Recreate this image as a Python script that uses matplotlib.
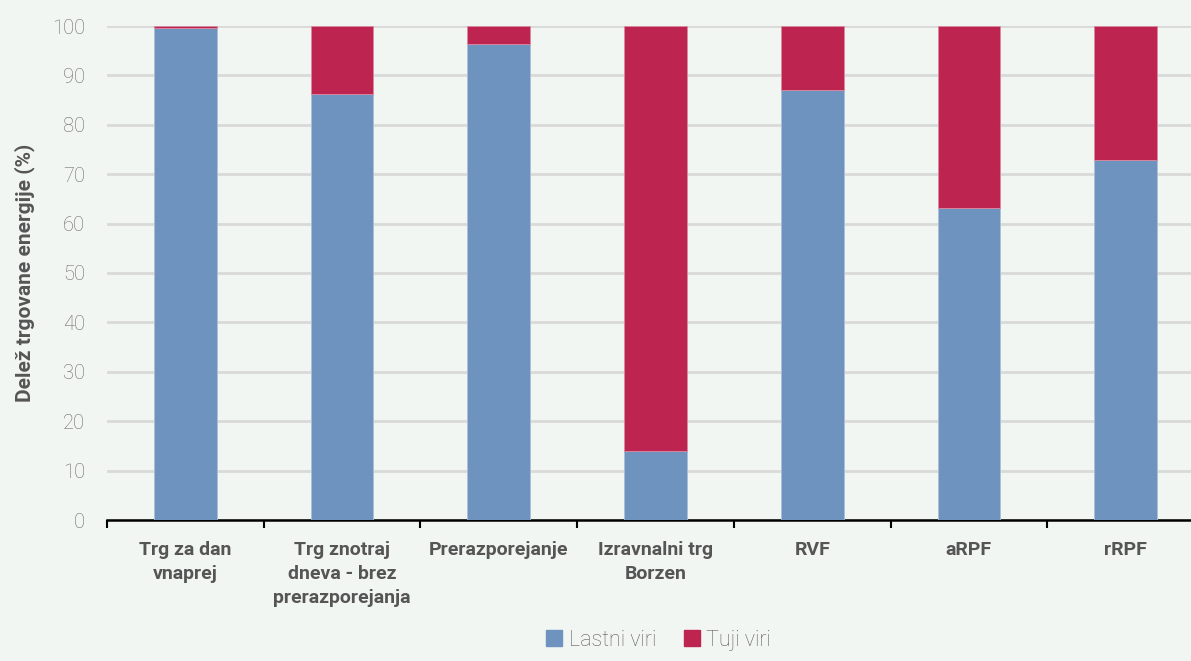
import matplotlib.pyplot as plt
import numpy as np
from matplotlib.patches import Patch

categories = ["Trg za dan\nvnaprej", "Trg znotraj\ndneva - brez\nprerazporejanja",
              "Prerazporejanje", "Izravnalni trg\nBorzen", "RVF", "aRPF", "rRPF"]
lastni = [99.6, 86.2, 96.4, 14.0, 87.0, 63.2, 72.9]
tuji = [0.4, 13.8, 3.6, 86.0, 13.0, 36.8, 27.1]
yticks = [0, 10, 20, 30, 40, 50, 60, 70, 80, 90, 100]

bg = "#f2f6f3"
blue = "#6d93be"
red = "#be2450"

plt.rcParams['font.family'] = ['Roboto', 'DejaVu Sans']

fig = plt.figure(figsize=(11.91, 6.61), dpi=100, facecolor=bg)
ax = fig.add_axes([107/1191, 141/661, 1097/1191, 494/661])
ax.set_facecolor(bg)

x = np.arange(len(categories))
ax.bar(x, lastni, width=0.4, color=blue, edgecolor="#a9c0d8", linewidth=0.6, zorder=3)
ax.bar(x, tuji, bottom=lastni, width=0.4, color=red, edgecolor="#d98aa0", linewidth=0.6, zorder=3)

ax.set_xlim(-0.5, len(categories) - 0.5)
ax.set_ylim(0, 100)
ax.set_yticks(yticks)
ax.set_yticklabels([str(t) for t in yticks], fontsize=14.5, color="#6a6a6a", fontweight="light")
ax.tick_params(axis="y", length=0, pad=16)
ax.yaxis.grid(True, color="#d9d9d9", linewidth=2, zorder=0)
ax.set_axisbelow(True)

ax.set_xticks(x)
ax.set_xticklabels(categories, fontsize=14, fontweight="bold", color="#555555", linespacing=1.45)
ax.tick_params(axis="x", length=0, pad=15)
ax.set_xticks(np.arange(len(categories) + 1) - 0.5, minor=True)
ax.tick_params(axis="x", which="minor", length=6, width=1.5, color="black", direction="out")

for s in ["top", "right", "left"]:
    ax.spines[s].set_visible(False)
ax.spines["bottom"].set_linewidth(1.8)
ax.spines["bottom"].set_color("black")

ax.set_ylabel("Delež trgovane energije (%)", fontsize=15, fontweight="bold", color="#555555", labelpad=12)

handles = [Patch(color=blue, label="Lastni viri"), Patch(color=red, label="Tuji viri")]
leg = fig.legend(handles=handles, loc="lower center", bbox_to_anchor=(0.553, -0.014), ncol=2,
                 frameon=False, fontsize=15.5, handlelength=0.75, handleheight=0.75,
                 handletextpad=0.3, columnspacing=1.3)
for t in leg.get_texts():
    t.set_color("#5e5e5e")
    t.set_fontweight("light")

fig.savefig("out.png", dpi=100, facecolor=bg)
